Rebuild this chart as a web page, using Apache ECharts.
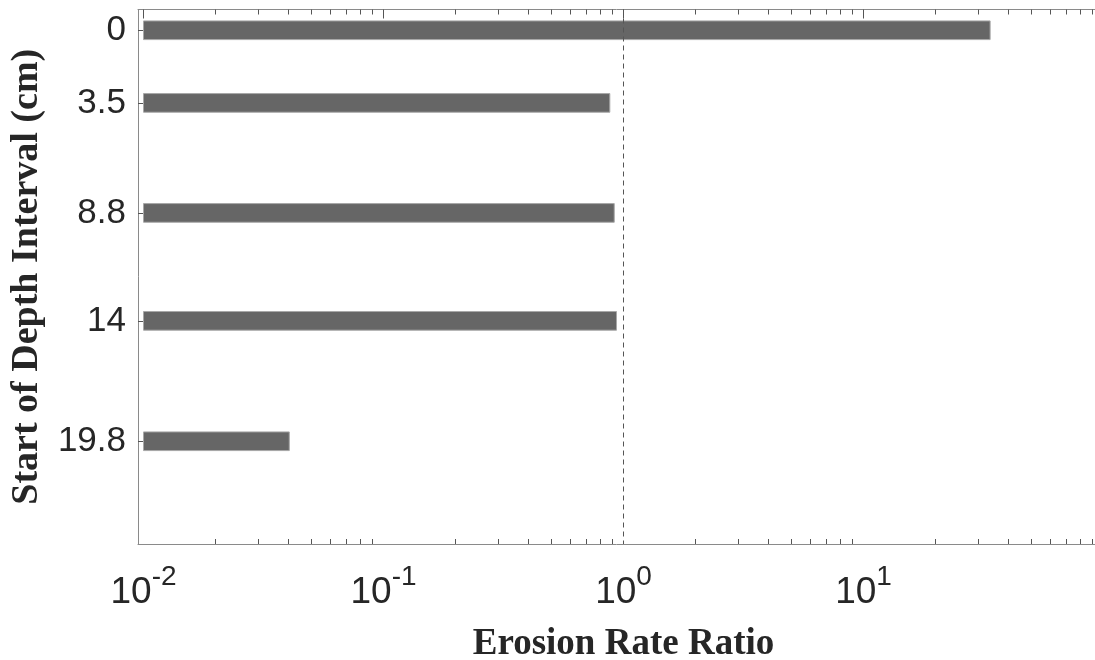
<!DOCTYPE html>
<html>
<head>
<meta charset="utf-8">
<script src="https://cdn.jsdelivr.net/npm/echarts@6/dist/echarts.min.js"></script>
<style>
html,body{margin:0;padding:0;background:#fff;}
#chart{width:1095px;height:660px;}
</style>
</head>
<body>
<div id="chart"></div>
<script>
// ---- data ----
const depths = [0, 3.5, 8.8, 14, 19.8];            // start of depth interval (cm)
const ratios = [33.7, 0.877, 0.915, 0.935, 0.0405]; // erosion rate ratio
const barBase = 0.01;                               // bars drawn from the axis minimum
const referenceRatio = 1;                           // dashed reference line
const majorTicks = [0.01, 0.1, 1, 10, 100];
const labelTicks = [0.01, 0.1, 1, 10];
const minorTicks = [0.02,0.03,0.04,0.05,0.06,0.07,0.08,0.09,
                    0.2,0.3,0.4,0.5,0.6,0.7,0.8,0.9,
                    2,3,4,5,6,7,8,9,
                    20,30,40,50,60,70,80,90];
const xTitle = 'Erosion Rate Ratio';
const yTitle = 'Start of Depth Interval (cm)';

const chart = echarts.init(document.getElementById('chart'), null, {renderer: 'canvas'});

const tickColor = '#555';
const lineColor = '#8a8a8a';
const textColor = '#262626';

function logAxis(position, ticks, len, withLabel) {
  const ax = {
    type: 'log', gridIndex: 0, position: position,
    min: 0.01, max: 100, logBase: 10,
    axisLine: {show: false},
    axisTick: {show: true, inside: true, length: len, customValues: ticks,
               lineStyle: {color: tickColor, width: 1}},
    splitLine: {show: false},
    minorTick: {show: false},
    axisLabel: {show: false}
  };
  if (withLabel) {
    ax.axisLabel = {
      show: true, customValues: labelTicks, margin: 19,
      formatter: function (v) {
        const e = Math.round(Math.log10(v));
        return '{b|10}{s|' + e + '}';
      },
      rich: {
        b: {fontFamily: 'Liberation Sans', fontSize: 37, color: textColor, lineHeight: 48, verticalAlign: 'bottom'},
        s: {fontFamily: 'Liberation Sans', fontSize: 28, color: textColor, lineHeight: 28, verticalAlign: 'top'}
      }
    };
    ax.name = xTitle;
    ax.nameLocation = 'middle';
    ax.nameGap = 82;
    ax.nameTextStyle = {fontFamily: 'Liberation Serif', fontWeight: 'bold', fontSize: 37, color: textColor};
  }
  return ax;
}

const option = {
  backgroundColor: '#fff',
  animation: false,
  grid: [
    {left: 143.5, right: -8.5, top: 9.5, bottom: 116, outerBoundsMode: 'none', containLabel: false},
    {left: 138, right: 0, top: 9.5, bottom: 116, outerBoundsMode: 'none', containLabel: false}
  ],
  xAxis: [
    logAxis('bottom', majorTicks, 9, true),
    logAxis('bottom', minorTicks, 5, false),
    logAxis('top', majorTicks, 9, false),
    logAxis('top', minorTicks, 5, false),
    {type: 'value', gridIndex: 1, position: 'bottom', min: 0, max: 1,
     axisLine: {show: true, onZero: false, lineStyle: {color: lineColor, width: 1}},
     axisTick: {show: false}, axisLabel: {show: false}, splitLine: {show: false}},
    {type: 'value', gridIndex: 1, position: 'top', min: 0, max: 1,
     axisLine: {show: true, onZero: false, lineStyle: {color: lineColor, width: 1}},
     axisTick: {show: false}, axisLabel: {show: false}, splitLine: {show: false}}
  ],
  yAxis: [
    {type: 'value', gridIndex: 0, position: 'left', inverse: true, min: -1, max: 24.75,
     offset: 5.5,
     axisLine: {show: false},
     axisTick: {show: true, inside: true, length: 6, customValues: depths,
                lineStyle: {color: tickColor, width: 1}},
     axisLabel: {show: true, customValues: depths, margin: 12,
                 fontFamily: 'Liberation Sans', fontSize: 35, color: textColor,
                 formatter: function (v) { return String(v); }},
     splitLine: {show: false},
     name: yTitle, nameLocation: 'middle', nameGap: 92,
     nameTextStyle: {fontFamily: 'Liberation Serif', fontWeight: 'bold', fontSize: 38, color: textColor}},
    {type: 'value', gridIndex: 1, position: 'left', min: 0, max: 1,
     axisLine: {show: true, onZero: false, lineStyle: {color: lineColor, width: 1}},
     axisTick: {show: false}, axisLabel: {show: false}, splitLine: {show: false}}
  ],
  series: [
    {
      type: 'custom',
      xAxisIndex: 0, yAxisIndex: 0,
      data: depths.map(function (d, i) { return [ratios[i], d]; }),
      encode: {x: 0, y: 1},
      clip: false,
      renderItem: function (params, api) {
        const v = api.value(0), d = api.value(1);
        const p0 = api.coord([barBase, d]);
        const p1 = api.coord([v, d]);
        const h = api.size([0, 0.9])[1];
        return {
          type: 'rect',
          shape: {x: p0[0], y: p0[1] - h / 2, width: p1[0] - p0[0], height: h},
          style: {fill: '#666666', stroke: '#a8a8a8', lineWidth: 1}
        };
      },
      markLine: {
        silent: true, symbol: 'none', label: {show: false},
        lineStyle: {type: [5, 4], color: '#555', width: 1},
        data: [{xAxis: referenceRatio}]
      }
    }
  ]
};
chart.setOption(option);
</script>
</body>
</html>
